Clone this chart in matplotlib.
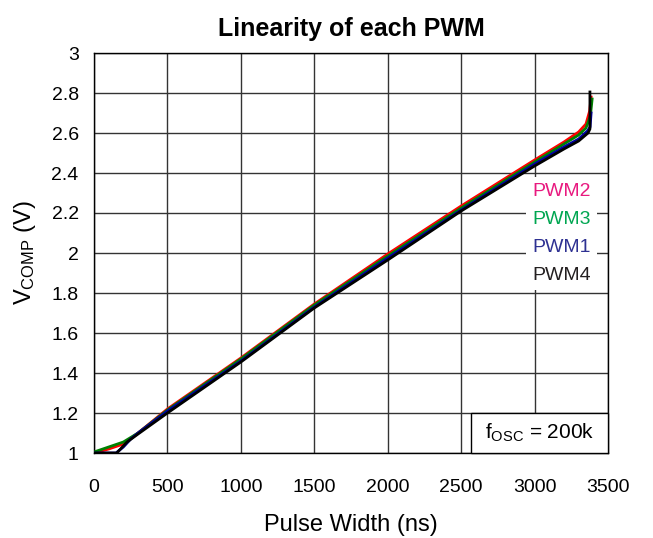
import matplotlib
matplotlib.use("Agg")
import matplotlib.pyplot as plt
from matplotlib.patches import Rectangle

plt.rcParams['font.family'] = ['Liberation Sans', 'DejaVu Sans']
plt.rcParams['mathtext.fontset'] = 'custom'
plt.rcParams['mathtext.rm'] = 'Liberation Sans'
plt.rcParams['mathtext.it'] = 'Liberation Sans:italic'
plt.rcParams['mathtext.bf'] = 'Liberation Sans:bold'

# ---- data ----
pwm2_x = [0, 100, 200, 300, 500, 1000, 1500, 2000, 2500, 3000, 3200, 3300, 3350, 3375, 3385]
pwm2_y = [1.0, 1.02, 1.045, 1.10, 1.22, 1.475, 1.745, 1.995, 2.235, 2.465, 2.555, 2.605, 2.645, 2.71, 2.78]

pwm3_x = [0, 100, 200, 300, 500, 1000, 1500, 2000, 2500, 3000, 3200, 3300, 3350, 3380, 3392]
pwm3_y = [1.005, 1.03, 1.055, 1.10, 1.215, 1.47, 1.74, 1.985, 2.225, 2.455, 2.545, 2.59, 2.625, 2.685, 2.77]

pwm1_x = [0, 150, 200, 250, 300, 500, 1000, 1500, 2000, 2500, 3000, 3200, 3300, 3360, 3378, 3385]
pwm1_y = [1.0, 1.0, 1.03, 1.07, 1.10, 1.21, 1.46, 1.73, 1.975, 2.215, 2.445, 2.53, 2.57, 2.61, 2.63, 2.70]

pwm4_x = [0, 155, 225, 300, 500, 1000, 1500, 2000, 2500, 3000, 3200, 3300, 3364, 3377, 3377]
pwm4_y = [1.0, 1.0, 1.055, 1.095, 1.20, 1.455, 1.725, 1.965, 2.21, 2.435, 2.52, 2.56, 2.60, 2.62, 2.805]

x_ticks = [0, 500, 1000, 1500, 2000, 2500, 3000, 3500]
y_ticks = [1, 1.2, 1.4, 1.6, 1.8, 2, 2.2, 2.4, 2.6, 2.8, 3]
y_tick_labels = ['1', '1.2', '1.4', '1.6', '1.8', '2', '2.2', '2.4', '2.6', '2.8', '3']

labels = ['PWM2', 'PWM3', 'PWM1', 'PWM4']
label_y = [2.305, 2.17, 2.03, 1.89]
label_colors = ['#E8197F', '#00A651', '#2E3192', '#231F20']

# ---- figure ----
fig = plt.figure(figsize=(6.53, 5.38), dpi=100)
ax = fig.add_axes([94/653, 1 - 453/538, 514/653, 400/538])

ax.plot(pwm2_x, pwm2_y, color='#FF0000', lw=2.0, zorder=3)
ax.plot(pwm3_x, pwm3_y, color='#008000', lw=2.0, zorder=4)
ax.plot(pwm1_x, pwm1_y, color='#0000A0', lw=2.0, zorder=5)
ax.plot(pwm4_x, pwm4_y, color='#000000', lw=2.0, zorder=6)

ax.set_xlim(0, 3500)
ax.set_ylim(1, 3)
ax.set_xticks(x_ticks)
ax.set_yticks(y_ticks)
ax.set_yticklabels(y_tick_labels)
ax.tick_params(axis='both', length=0, labelsize=14)
ax.tick_params(axis='x', pad=18.5)
ax.tick_params(axis='y', pad=11)
ax.grid(True, color='#333333', lw=1.0)
ax.set_axisbelow(True)
for s in ax.spines.values():
    s.set_color('black')
    s.set_linewidth(1.0)

for lab, yy, c in zip(labels, label_y, label_colors):
    ax.text(2982, yy, lab, color=c, fontsize=14, ha='left', va='center', zorder=8,
            bbox=dict(facecolor='white', edgecolor='none', pad=4.5))

ax.add_patch(Rectangle((0.733, 0.0), 0.267, 0.1, transform=ax.transAxes,
                       facecolor='white', edgecolor='black', lw=1.0, zorder=7, clip_on=False))
ax.text(0.868, 0.05, r'f$_{\mathrm{OSC}}$ = 200k', transform=ax.transAxes,
        fontsize=15, ha='center', va='center', zorder=8)

ax.set_xlabel('Pulse Width (ns)', fontsize=17, labelpad=13)
ax.set_ylabel(r'V$_{\mathrm{COMP}}$ (V)', fontsize=17, labelpad=10)
ax.set_title('Linearity of each PWM', fontsize=18, fontweight='bold', pad=12)

fig.savefig('out.png', dpi=100)
